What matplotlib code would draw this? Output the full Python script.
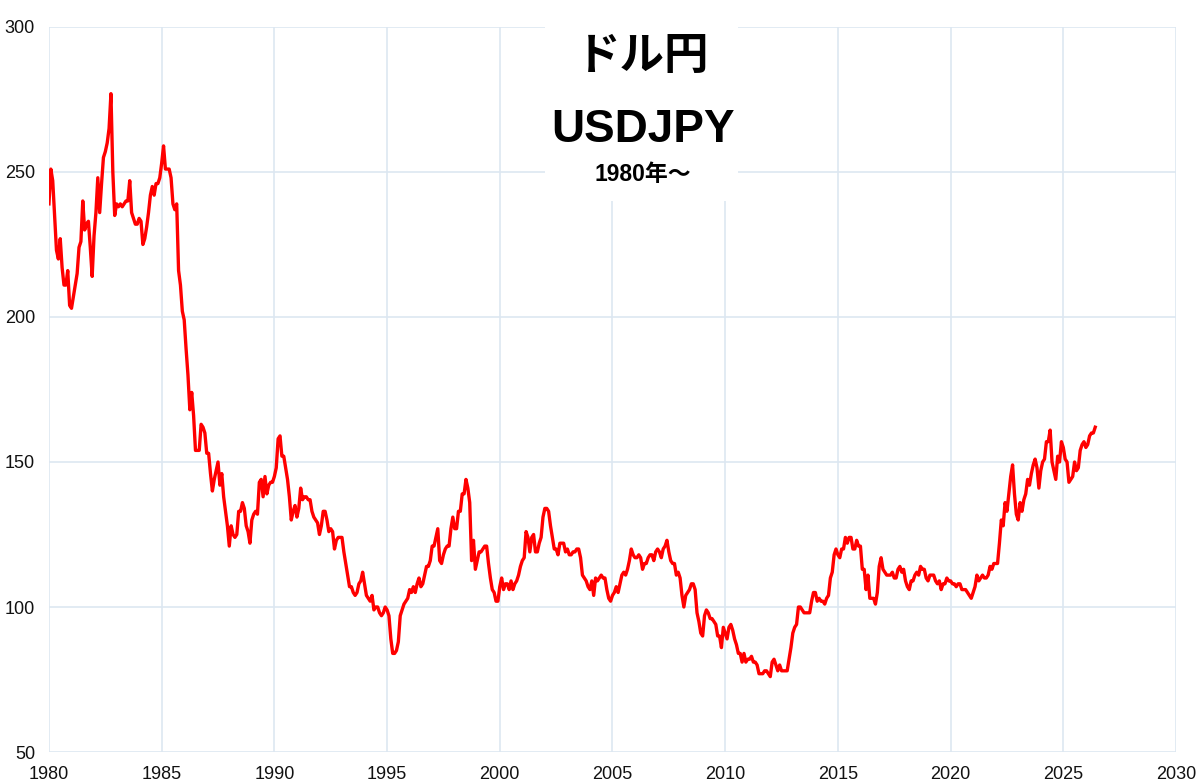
import numpy as np
import matplotlib
matplotlib.use("Agg")
import matplotlib.pyplot as plt
from matplotlib.patches import Rectangle

# monthly USDJPY (month start, 1980-01 ...)
y1980 = [239, 251, 247, 235, 223, 220, 227, 217, 211, 211, 216, 204]
y1981 = [203, 207, 211, 215, 224, 226, 240, 230, 232, 233, 224, 214]
y1982 = [228, 236, 248, 236, 246, 255, 257, 260, 265, 277, 250, 235]
y1983 = [239, 238, 239, 238, 239, 240, 240, 247, 236, 234, 232, 232]
y1984 = [234, 233, 225, 227, 231, 236, 242, 245, 242, 246, 246, 248]
y1985 = [253, 259, 251, 251, 251, 248, 239, 237, 239, 216, 211, 202]
y1986 = [199, 189, 180, 168, 174, 166, 154, 154, 154, 163, 162, 160]
y1987 = [153, 153, 146, 140, 144, 147, 150, 142, 146, 138, 133, 128]
y1988 = [121, 128, 125, 124, 125, 133, 133, 136, 134, 128, 126, 122]
y1989 = [130, 132, 133, 132, 143, 144, 138, 145, 139, 142, 143, 143]
y1990 = [145, 148, 158, 159, 152, 152, 148, 144, 138, 130, 133, 135]
y1991 = [131, 134, 141, 137, 138, 138, 137, 137, 133, 131, 130, 129]
y1992 = [125, 128, 133, 133, 130, 126, 127, 126, 120, 123, 124, 124]
y1993 = [124, 119, 115, 111, 107, 107, 105, 104, 105, 108, 109, 112]
y1994 = [108, 104, 103, 102, 104, 99, 100, 100, 98, 97, 98, 100]
y1995 = [99, 97, 89, 84, 84, 85, 88, 97, 99, 101, 102, 103]
y1996 = [106, 105, 107, 105, 108, 110, 107, 108, 111, 114, 114, 116]
y1997 = [121, 121, 124, 127, 116, 115, 118, 120, 121, 121, 127, 131]
y1998 = [127, 127, 133, 133, 139, 139, 144, 141, 136, 116, 123, 113]
y1999 = [116, 119, 119, 120, 121, 121, 115, 110, 106, 105, 102, 102]
y2000 = [107, 110, 106, 108, 108, 106, 109, 106, 108, 109, 111, 114]
y2001 = [116, 117, 126, 124, 119, 124, 125, 119, 119, 122, 124, 131]
y2002 = [134, 134, 133, 128, 124, 120, 120, 118, 122, 122, 122, 119]
y2003 = [120, 118, 118, 119, 119, 120, 120, 117, 111, 110, 109, 107]
y2004 = [106, 109, 104, 110, 109, 110, 111, 110, 110, 106, 103, 102]
y2005 = [104, 105, 107, 105, 108, 111, 112, 111, 113, 116, 120, 118]
y2006 = [117, 117, 118, 117, 113, 115, 115, 117, 118, 118, 116, 119]
y2007 = [120, 119, 117, 120, 121, 123, 119, 116, 115, 115, 111, 112]
y2008 = [110, 104, 100, 104, 105, 106, 108, 108, 106, 98, 95, 91]
y2009 = [90, 97, 99, 98, 96, 96, 95, 94, 90, 90, 86, 93]
y2010 = [91, 89, 93, 94, 92, 89, 87, 84, 84, 81, 84, 81]
y2011 = [82, 82, 83, 81, 81, 80, 77, 77, 77, 78, 78, 77]
y2012 = [76, 81, 82, 80, 78, 80, 78, 78, 78, 78, 82, 86]
y2013 = [91, 93, 94, 100, 100, 99, 98, 98, 98, 98, 102, 105]
y2014 = [105, 102, 103, 102, 102, 101, 103, 104, 110, 112, 118, 120]
y2015 = [118, 117, 120, 120, 124, 122, 124, 124, 120, 120, 123, 121]
y2016 = [121, 113, 113, 106, 111, 103, 103, 103, 101, 105, 114, 117]
y2017 = [113, 112, 111, 111, 111, 112, 110, 110, 113, 114, 112, 113]
y2018 = [109, 107, 106, 109, 109, 111, 112, 111, 114, 113, 113, 110]
y2019 = [109, 111, 111, 111, 109, 108, 109, 106, 108, 108, 110, 109]
y2020 = [109, 108, 108, 107, 108, 108, 106, 106, 106, 105, 104, 103]
y2021 = [105, 107, 111, 109, 110, 111, 110, 110, 111, 114, 113, 115]
y2022 = [115, 115, 122, 130, 128, 136, 133, 139, 145, 149, 139, 132]
y2023 = [130, 136, 133, 137, 139, 144, 142, 146, 149, 151, 148, 141]
y2024 = [147, 150, 151, 157, 157, 161, 150, 147, 144, 152, 150, 157]
y2025 = [155, 151, 150, 143, 144, 145, 150, 147, 148, 154, 156, 157]
y2026 = [155, 156, 159, 160, 160, 162]

years = [y1980, y1981, y1982, y1983, y1984, y1985, y1986, y1987, y1988, y1989,
         y1990, y1991, y1992, y1993, y1994, y1995, y1996, y1997, y1998, y1999,
         y2000, y2001, y2002, y2003, y2004, y2005, y2006, y2007, y2008, y2009,
         y2010, y2011, y2012, y2013, y2014, y2015, y2016, y2017, y2018, y2019,
         y2020, y2021, y2022, y2023, y2024, y2025, y2026]

rate = np.concatenate(years)
t = 1980 + np.arange(len(rate)) / 12.0

x_ticks = np.arange(1980, 2031, 5)
y_ticks = np.arange(50, 301, 50)

title = "ドル円"
subtitle = "USDJPY"
since = "1980年〜"

grid_col = "#dde7f1"

fig = plt.figure(figsize=(12, 7.84), dpi=100)
ax = fig.add_axes([0.0408, 0.0408, 0.9392, 0.9248])

ax.plot(t, rate, color="#ff0000", lw=2.4, zorder=3)

ax.set_xlim(1980, 2030)
ax.set_ylim(50, 300)
ax.set_xticks(x_ticks)
ax.set_yticks(y_ticks)
ax.grid(True, color=grid_col, lw=1.2, zorder=0)
ax.set_axisbelow(True)
for s in ax.spines.values():
    s.set_visible(False)
ax.tick_params(length=0, labelsize=13, labelcolor="#111111", pad=10)
for lab in ax.get_xticklabels() + ax.get_yticklabels():
    lab.set_family(["Liberation Sans", "DejaVu Sans"])

# white box behind the title
ax.add_patch(Rectangle((0.440, 0.76), 0.171, 0.25, transform=ax.transAxes,
                       facecolor="white", edgecolor="none", zorder=1, clip_on=False))

jp = ["Noto Sans CJK JP", "DejaVu Sans"]
ax.text(0.527, 0.96, title, transform=ax.transAxes, ha="center", va="center",
        fontsize=32, fontweight="bold", family=jp, zorder=4)
ax.text(0.527, 0.858, subtitle, transform=ax.transAxes, ha="center", va="center",
        fontsize=33, fontweight="bold", family=["Liberation Sans", "DejaVu Sans"], zorder=4)
ax.text(0.527, 0.797, since, transform=ax.transAxes, ha="center", va="center",
        fontsize=16.5, fontweight="bold", family=["Liberation Sans", "Noto Sans CJK JP"], zorder=4)

fig.savefig("out.png", dpi=100, facecolor="white")
